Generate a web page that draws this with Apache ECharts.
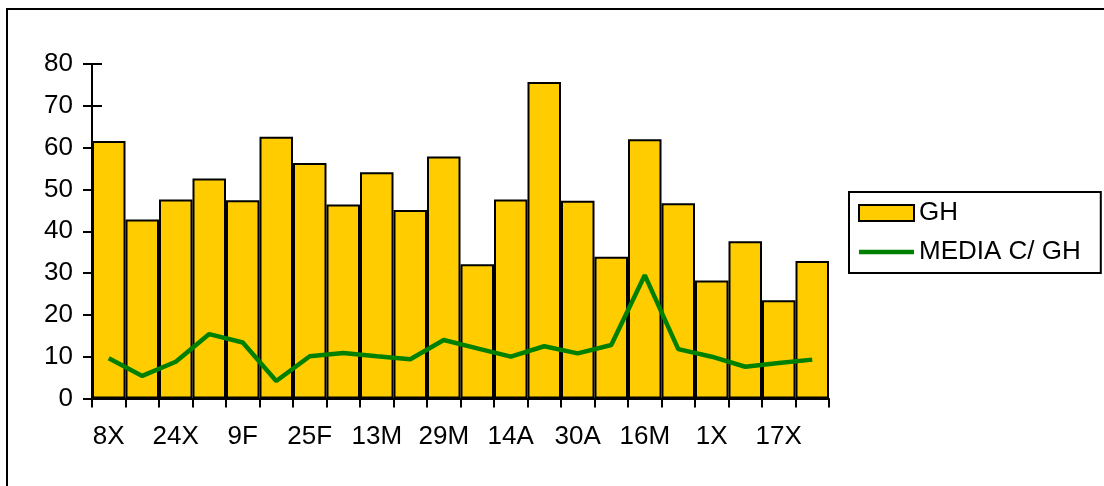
<!DOCTYPE html>
<html>
<head>
<meta charset="utf-8">
<script src="https://cdn.jsdelivr.net/npm/echarts@6/dist/echarts.min.js"></script>
<style>
html,body{margin:0;padding:0;background:#fff;}
#chart{width:1104px;height:486px;}
</style>
</head>
<body>
<div id="chart"></div>
<script>
const categories = ['8X','16X','24X','1F','9F','17F','25F','5M','13M','21M','29M','6A','14A','22A','30A','8M','16M','24M','1X','9X','17X','25X'];
const ghValues = [61.6,42.8,47.6,52.6,47.4,62.6,56.3,46.4,54.1,45.1,57.9,32.1,47.6,75.7,47.3,33.9,62.0,46.7,28.2,37.6,23.5,32.9];
const mediaValues = [9.6,5.4,8.8,15.4,13.4,4.2,10.1,10.9,10.1,9.4,14.0,12.0,10.0,12.5,10.8,12.8,29.5,11.8,10.0,7.6,8.5,9.3];
const yTicks = {min:0, max:80, interval:10};

const font = 'Liberation Sans, Arial, sans-serif';
const chart = echarts.init(document.getElementById('chart'), null, {renderer:'canvas'});
chart.setOption({
  animation:false,
  backgroundColor:'#fff',
  textStyle:{fontFamily:font},
  grid:{left:92, right:275, top:64, bottom:87.5, containLabel:false},
  legend:{
    orient:'vertical', left:849, top:192,
    padding:[8,20,8,9],
    borderColor:'#000', borderWidth:2,
    itemWidth:55, itemHeight:16, itemGap:13,
    textStyle:{fontFamily:font, fontSize:26, color:'#000'},
    data:[
      {name:'GH', icon:'rect'},
      {name:'MEDIA C/ GH', icon:'path://M0,0 L55,0 L55,4.5 L0,4.5 Z', itemStyle:{color:'#008000', borderWidth:0}}
    ]
  },
  xAxis:{
    type:'category', data:categories, boundaryGap:true,
    axisLine:{lineStyle:{color:'#000', width:2}},
    axisTick:{show:true, interval:0, length:9, lineStyle:{color:'#000', width:2}},
    axisLabel:{interval:1, color:'#000', fontSize:26, fontFamily:font, margin:25},
    splitLine:{show:false}
  },
  yAxis:[{
    type:'value', min:yTicks.min, max:yTicks.max, interval:yTicks.interval,
    axisLine:{show:true, lineStyle:{color:'#000', width:2}},
    axisTick:{show:true, length:9, lineStyle:{color:'#000', width:2}},
    axisLabel:{color:'#000', fontSize:26, fontFamily:font, margin:19},
    splitLine:{show:false}
  },{
    type:'value', min:yTicks.min, max:yTicks.max, interval:yTicks.interval, position:'left',
    axisLine:{show:false},
    axisTick:{show:true, inside:true, length:10, lineStyle:{color:'#000', width:2}},
    axisLabel:{show:false},
    splitLine:{show:false}
  }],
  series:[{
    name:'GH', type:'bar', data:ghValues, barCategoryGap:'0%', barGap:'0%',
    itemStyle:{color:'#FFCC00', borderColor:'#000', borderWidth:2},
    z:2
  },{
    name:'MEDIA C/ GH', type:'line', data:mediaValues, symbol:'none', showSymbol:false,
    lineStyle:{color:'#008000', width:4.5}, itemStyle:{color:'#008000'},
    z:5
  }],
  graphic:[{
    type:'polyline', silent:true,
    shape:{points:[[7,500],[7,9],[1110,9]]},
    style:{stroke:'#000', lineWidth:2, fill:null}
  }]
});
</script>
</body>
</html>
